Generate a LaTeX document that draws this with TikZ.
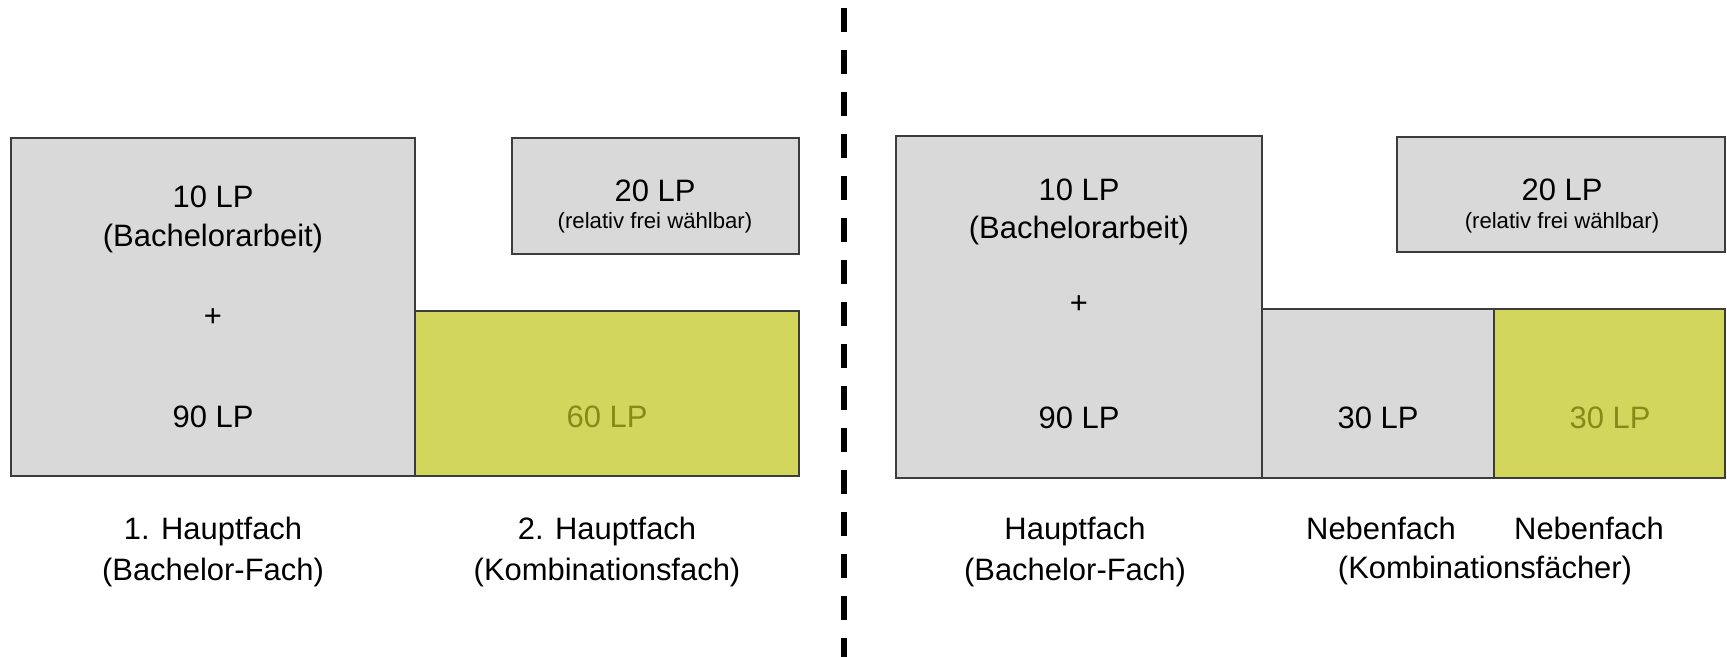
\documentclass[tikz,border=0pt]{standalone}
\usepackage{fontspec}
\setmainfont{Liberation Sans}
\usepackage{tikz}
\definecolor{lpgray}{RGB}{217,217,217}
\definecolor{lpyellow}{RGB}{210,214,92}
\definecolor{lpolive}{RGB}{134,138,24}
\definecolor{lpline}{RGB}{60,60,60}
\tikzset{
  lpbox/.style={fill=lpgray, draw=lpline, line width=0.5pt},
  kombibox/.style={fill=lpyellow, draw=lpline, line width=0.5pt},
  lptext/.style={anchor=base, inner sep=0pt, font=\fontsize{8.8}{10.5}\selectfont},
  smalltext/.style={anchor=base, inner sep=0pt, font=\fontsize{6.3}{7.5}\selectfont},
}

\begin{document}
\begin{tikzpicture}[x=0.01cm, y=-0.01cm]
   \useasboundingbox (0,0) rectangle (1727,657);

   % Trennlinie
   \draw[line width=0.06cm, dash pattern=on 0.24cm off 0.18cm] (844,8) -- (844,657);

   % Links: Hauptfach + Kombinationsfach
   \filldraw[lpbox] (11,138) rectangle (415,476);
   \filldraw[lpbox] (512,138) rectangle (799,254);
   \filldraw[kombibox] (415,311) rectangle (799,476);

   \node[lptext] (bal) at (213,207) {10 LP};
   \node[lptext] (bala) at (213,246) {(Bachelorarbeit)};
   \node[lptext] (plusl) at (213,326) {+};
   \node[lptext] (hfl) at (213,427) {90 LP};
   \node[lptext, text=lpolive] (kfl) at (607,427) {60 LP};
   \node[lptext] (freil) at (655,201) {20 LP};
   \node[smalltext] (freila) at (655,228) {(relativ frei wählbar)};

   \node[lptext] (hfa) at (213,539) {1. Hauptfach};
   \node[lptext] (hfb) at (213,580) {(Bachelor-Fach)};
   \node[lptext] (kfa) at (607,539) {2. Hauptfach};
   \node[lptext] (kfb) at (607,580) {(Kombinationsfach)};

   % Rechts: Hauptfach + 2 Nebenfaecher
   \filldraw[lpbox] (896,136) rectangle (1262,478);
   \filldraw[lpbox] (1397,137) rectangle (1725,252);
   \filldraw[lpbox] (1262,309) rectangle (1494,478);
   \filldraw[kombibox] (1494,309) rectangle (1725,478);

   \node[lptext] (bar) at (1079,200) {10 LP};
   \node[lptext] (bara) at (1079,238) {(Bachelorarbeit)};
   \node[lptext] (plusr) at (1079,313) {+};
   \node[lptext] (hfr) at (1079,428) {90 LP};
   \node[lptext] (nfr) at (1378,428) {30 LP};
   \node[lptext, text=lpolive] (kfr) at (1610,428) {30 LP};
   \node[lptext] (freir) at (1562,200) {20 LP};
   \node[smalltext] (freira) at (1562,228) {(relativ frei wählbar)};

   \node[lptext] (hfc) at (1075,539) {Hauptfach};
   \node[lptext] (hfd) at (1075,580) {(Bachelor-Fach)};
   \node[lptext] (nfa) at (1381,539) {Nebenfach};
   \node[lptext] (nfb) at (1589,539) {Nebenfach};
   \node[lptext] (nfc) at (1485,578) {(Kombinationsfächer)};

\end{tikzpicture}
\end{document}
